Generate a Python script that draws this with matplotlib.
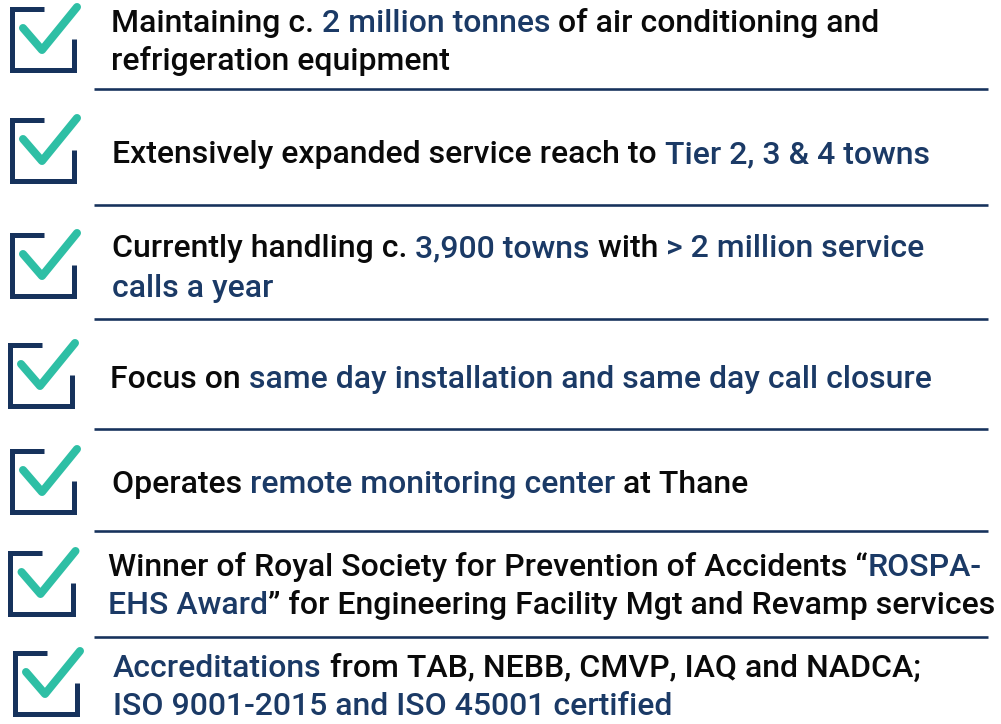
import matplotlib
matplotlib.use("Agg")
import matplotlib.pyplot as plt

W, H, DPI = 1001, 724, 100
NAVY = "#16325c"
TEAL = "#2ebfa5"
BLUE = "#1b3a66"
BLACK = "#0a0a0a"
FONT = "Roboto"
FS = 23.0
WEIGHT = "medium"

# content: each item -> list of lines -> list of (text, highlighted)
items = [
    [[("Maintaining c. ", 0), ("2 million tonnes", 1), (" of air conditioning and", 0)],
     [("refrigeration equipment", 0)]],
    [[("Extensively expanded service reach to ", 0), ("Tier 2, 3 & 4 towns", 1)]],
    [[("Currently handling c. ", 0), ("3,900 towns", 1), (" with ", 0), ("> 2 million service", 1)],
     [("calls a year", 1)]],
    [[("Focus on ", 0), ("same day installation and same day call closure", 1)]],
    [[("Operates ", 0), ("remote monitoring center", 1), (" at Thane", 0)]],
    [[("Winner of Royal Society for Prevention of Accidents \u201c", 0), ("ROSPA-", 1)],
     [("EHS Award", 1), ("\u201d for Engineering Facility Mgt and Revamp services", 0)]],
    [[("Accreditations", 1), (" from TAB, NEBB, CMVP, IAQ and NADCA;", 0)],
     [("ISO 9001-2015 and ISO 45001 certified", 1)]],
]

# layout (pixels)
text_x = [111, 112, 112, 110, 112, 108, 113]
baselines = [[32, 70], [163], [257, 297], [388], [493], [576, 614], [677, 715]]
icon_pos = [(11.5, 8.5), (11.5, 119.5), (11.5, 234.5), (9.5, 344.5),
            (11.5, 450.5), (10, 552.5), (14.5, 652.5)]
sep_y = [89, 205, 319, 429, 531, 637]

fig = plt.figure(figsize=(W / DPI, H / DPI), dpi=DPI)
ax = fig.add_axes([0, 0, 1, 1])
ax.set_xlim(0, W)
ax.set_ylim(H, 0)
ax.axis("off")

def px(v):
    return v * 72 / DPI

def draw_icon(x0, y0):
    bw, bh = 62.5, 61
    ax.plot([x0 + 32, x0, x0, x0 + bw, x0 + bw],
            [y0, y0, y0 + bh, y0 + bh, y0 + 30],
            color=NAVY, lw=px(5), solid_joinstyle="miter", solid_capstyle="butt")
    ax.plot([x0 + 11.5, x0 + 30.5, x0 + 65.5],
            [y0 + 19.5, y0 + 41.5, y0 - 1.5],
            color=TEAL, lw=px(8), solid_joinstyle="round", solid_capstyle="round")

for (x0, y0) in icon_pos:
    draw_icon(x0, y0)

for y in sep_y:
    ax.plot([94, 988], [y, y], color=NAVY, lw=px(2.6), solid_capstyle="butt")

fig.canvas.draw()
renderer = fig.canvas.get_renderer()

for item, x0, bls in zip(items, text_x, baselines):
    for line, yb in zip(item, bls):
        x = x0
        for txt, hl in line:
            t = ax.text(x, yb, txt, fontsize=FS, family=FONT, weight=WEIGHT,
                        color=BLUE if hl else BLACK, va="baseline", ha="left")
            bb = t.get_window_extent(renderer=renderer)
            x += bb.width

fig.savefig("out.png", dpi=DPI)
